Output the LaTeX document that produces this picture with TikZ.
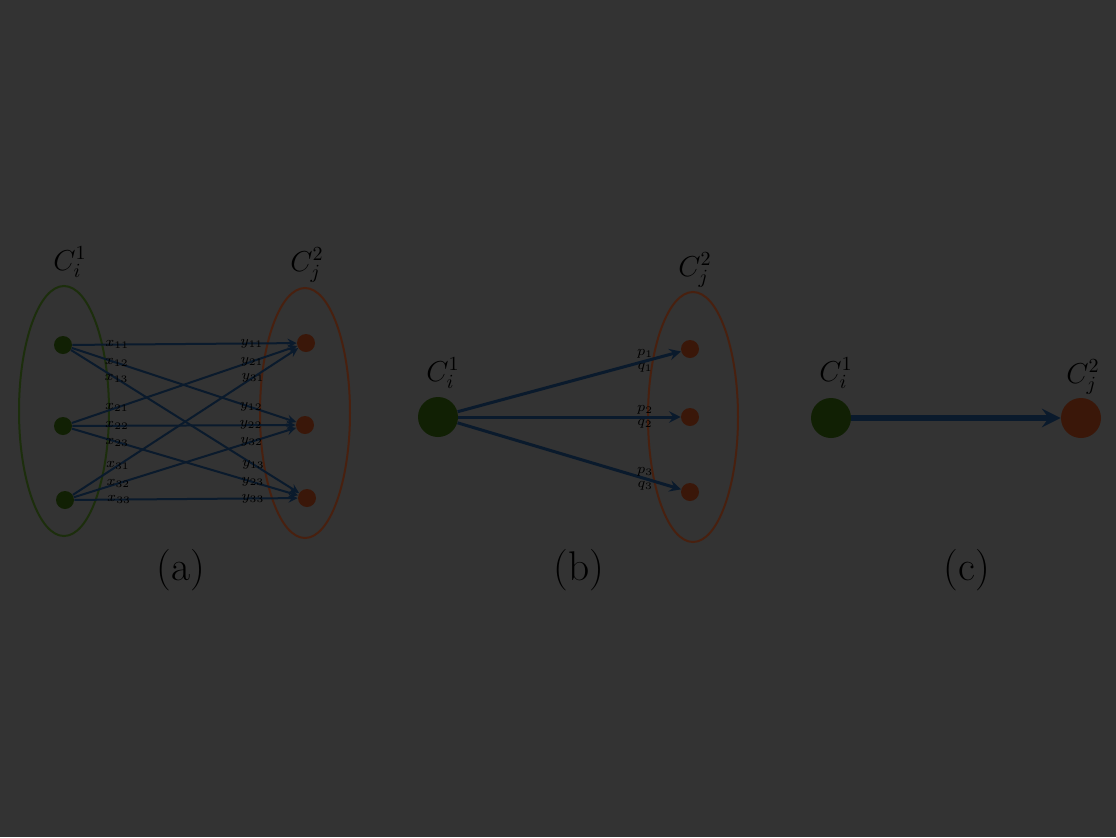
\documentclass[tikz,border=0pt]{standalone}
\usepackage{amsmath,amssymb}
\usepackage{tikz}
\usetikzlibrary{shapes}
\usepackage{xcolor}
\definecolor{bgray}{HTML}{333333}
\definecolor{srcgreen}{HTML}{112004}
\definecolor{tgtbrown}{HTML}{3A1709}
\definecolor{setgreen}{HTML}{1C2E0C}
\definecolor{setbrown}{HTML}{48200F}
\definecolor{edgeblue}{HTML}{0A1A2C}
\begin{document}
\begin{tikzpicture}[x=0.5pt,y=-0.5pt,>=stealth,
  small/.style={circle,fill=srcgreen,inner sep=0pt,minimum size=9pt},
  smallt/.style={small,fill=tgtbrown},
  big/.style={circle,fill=srcgreen,inner sep=0pt,minimum size=20pt},
  bigt/.style={big,fill=tgtbrown},
  edge/.style={draw=edgeblue,line width=1pt},
  lbl/.style={text=black,font=\scriptsize,inner sep=0.5pt},
  setname/.style={text=black,font=\Large},
  caption/.style={text=black,font=\huge}]
\fill[bgray] (0,0) rectangle (1116,837);
% (a)
\draw[setgreen,line width=1pt] (64,411) ellipse [x radius=45, y radius=125];
\draw[setbrown,line width=1pt] (305,413) ellipse [x radius=45, y radius=125];
\node[small] (a1) at (63,345) {};
\node[small] (a2) at (63,426) {};
\node[small] (a3) at (65,500) {};
\node[smallt] (b1) at (306,343) {};
\node[smallt] (b2) at (305,425) {};
\node[smallt] (b3) at (307,498) {};
\node[setname] (ca) at (70,262) {$C^{1}_{i}$};
\node[setname] (cb) at (307,265) {$C^{2}_{j}$};
\foreach \i in {1,2,3}
  \foreach \j in {1,2,3}
    \draw[edge,->] (a\i) -- (b\j) node[lbl,pos=0.2] {$x_{\i\j}$} node[lbl,pos=0.8] {$y_{\i\j}$};
\node[caption] (capa) at (181,570) {(a)};
% (b)
\draw[setbrown,line width=1pt] (693,417) ellipse [x radius=45, y radius=125];
\node[big] (s) at (438,417) {};
\node[smallt] (t1) at (690,349) {};
\node[smallt] (t2) at (690,417) {};
\node[smallt] (t3) at (690,492) {};
\node[setname] (cs) at (443,373) {$C^{1}_{i}$};
\node[setname] (ct) at (695,270) {$C^{2}_{j}$};
\foreach \j in {1,2,3}
  \draw[edge,line width=1.5pt,->] (s) -- (t\j) node[lbl,pos=0.84,above] {$p_{\j}$} node[lbl,pos=0.84,below] {$q_{\j}$};
\node[caption] (capb) at (579,570) {(b)};
% (c)
\node[big] (u) at (831,418) {};
\node[bigt] (v) at (1081,418) {};
\node[setname] (cu) at (836,373) {$C^{1}_{i}$};
\node[setname] (cv) at (1083,377) {$C^{2}_{j}$};
\draw[edge,line width=3pt,->] (u) -- (v);
\node[caption] (capc) at (967,570) {(c)};
\end{tikzpicture}
\end{document}
